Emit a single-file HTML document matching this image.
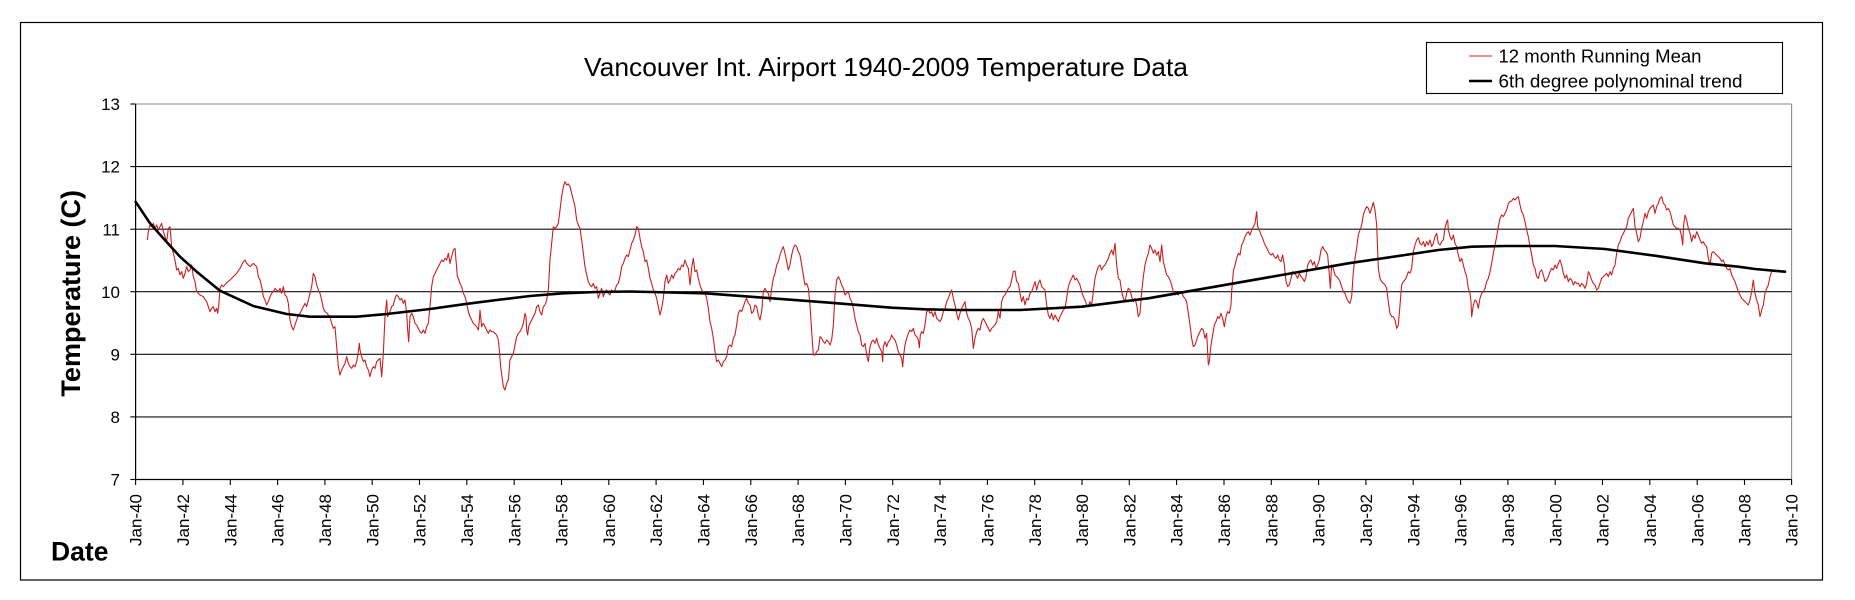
<!DOCTYPE html>
<html>
<head>
<meta charset="utf-8">
<style>
  html, body { margin: 0; padding: 0; background: #ffffff; }
  svg { display: block; }
  text { font-family: "Liberation Sans", Arial, sans-serif; fill: #000; }
</style>
</head>
<body>
<svg width="1855" height="600" viewBox="0 0 1855 600" xmlns="http://www.w3.org/2000/svg">
  <rect x="0" y="0" width="1855" height="600" fill="#ffffff"/>
  <!-- outer chart frame -->
  <rect x="20.5" y="22.5" width="1802" height="557.5" fill="none" stroke="#000" stroke-width="1.2"/>

  <!-- title -->
  <text x="584" y="76" font-size="26" textLength="604" lengthAdjust="spacingAndGlyphs">Vancouver Int. Airport 1940-2009 Temperature Data</text>

  <!-- legend -->
  <rect x="1426.5" y="42.5" width="356" height="51" fill="#fff" stroke="#000" stroke-width="1.1"/>
  <line x1="1469" y1="56" x2="1492" y2="56" stroke="#cc2020" stroke-width="1.1"/>
  <line x1="1469" y1="81" x2="1492" y2="81" stroke="#000" stroke-width="2.6"/>
  <text x="1498.5" y="62.6" font-size="18.7" textLength="203" lengthAdjust="spacingAndGlyphs">12 month Running Mean</text>
  <text x="1498.5" y="87.4" font-size="18.7" textLength="244" lengthAdjust="spacingAndGlyphs">6th degree polynominal trend</text>

  <!-- plot area borders -->
  <line x1="135.6" y1="104" x2="1791.6" y2="104" stroke="#8a8a8a" stroke-width="1.1"/>
  <line x1="1791.6" y1="104" x2="1791.6" y2="479.5" stroke="#8a8a8a" stroke-width="1.1"/>
  <!-- gridlines -->
  <g stroke="#111" stroke-width="1.1">
    <line x1="135.6" y1="166.6" x2="1791.6" y2="166.6"/>
    <line x1="135.6" y1="229.2" x2="1791.6" y2="229.2"/>
    <line x1="135.6" y1="291.7" x2="1791.6" y2="291.7"/>
    <line x1="135.6" y1="354.3" x2="1791.6" y2="354.3"/>
    <line x1="135.6" y1="416.9" x2="1791.6" y2="416.9"/>
  </g>
  <!-- axes -->
  <line x1="135.6" y1="104" x2="135.6" y2="479.5" stroke="#000" stroke-width="1.2"/>
  <line x1="135.6" y1="479.5" x2="1791.6" y2="479.5" stroke="#000" stroke-width="1.2"/>

  <!-- y ticks -->
  <g stroke="#000" stroke-width="1.1">
    <line x1="130.3" y1="104" x2="135.6" y2="104"/>
    <line x1="130.3" y1="166.6" x2="135.6" y2="166.6"/>
    <line x1="130.3" y1="229.2" x2="135.6" y2="229.2"/>
    <line x1="130.3" y1="291.7" x2="135.6" y2="291.7"/>
    <line x1="130.3" y1="354.3" x2="135.6" y2="354.3"/>
    <line x1="130.3" y1="416.9" x2="135.6" y2="416.9"/>
    <line x1="130.3" y1="479.5" x2="135.6" y2="479.5"/>
  </g>
  <g font-size="17" text-anchor="end">
    <text x="120" y="110.1">13</text>
    <text x="120" y="172.7">12</text>
    <text x="120" y="235.3">11</text>
    <text x="120" y="297.8">10</text>
    <text x="120" y="360.4">9</text>
    <text x="120" y="423">8</text>
    <text x="120" y="485.6">7</text>
  </g>

  <!-- x ticks -->
  <g stroke="#000" stroke-width="1.1">
    <line x1="135.6" y1="479.5" x2="135.6" y2="485"/>
    <line x1="182.9" y1="479.5" x2="182.9" y2="485"/>
    <line x1="230.3" y1="479.5" x2="230.3" y2="485"/>
    <line x1="277.6" y1="479.5" x2="277.6" y2="485"/>
    <line x1="324.9" y1="479.5" x2="324.9" y2="485"/>
    <line x1="372.2" y1="479.5" x2="372.2" y2="485"/>
    <line x1="419.5" y1="479.5" x2="419.5" y2="485"/>
    <line x1="466.8" y1="479.5" x2="466.8" y2="485"/>
    <line x1="514.2" y1="479.5" x2="514.2" y2="485"/>
    <line x1="561.5" y1="479.5" x2="561.5" y2="485"/>
    <line x1="608.8" y1="479.5" x2="608.8" y2="485"/>
    <line x1="656.1" y1="479.5" x2="656.1" y2="485"/>
    <line x1="703.4" y1="479.5" x2="703.4" y2="485"/>
    <line x1="750.8" y1="479.5" x2="750.8" y2="485"/>
    <line x1="798.1" y1="479.5" x2="798.1" y2="485"/>
    <line x1="845.4" y1="479.5" x2="845.4" y2="485"/>
    <line x1="892.7" y1="479.5" x2="892.7" y2="485"/>
    <line x1="940" y1="479.5" x2="940" y2="485"/>
    <line x1="987.4" y1="479.5" x2="987.4" y2="485"/>
    <line x1="1034.7" y1="479.5" x2="1034.7" y2="485"/>
    <line x1="1082" y1="479.5" x2="1082" y2="485"/>
    <line x1="1129.3" y1="479.5" x2="1129.3" y2="485"/>
    <line x1="1176.6" y1="479.5" x2="1176.6" y2="485"/>
    <line x1="1224" y1="479.5" x2="1224" y2="485"/>
    <line x1="1271.3" y1="479.5" x2="1271.3" y2="485"/>
    <line x1="1318.6" y1="479.5" x2="1318.6" y2="485"/>
    <line x1="1365.9" y1="479.5" x2="1365.9" y2="485"/>
    <line x1="1413.2" y1="479.5" x2="1413.2" y2="485"/>
    <line x1="1460.6" y1="479.5" x2="1460.6" y2="485"/>
    <line x1="1507.9" y1="479.5" x2="1507.9" y2="485"/>
    <line x1="1555.2" y1="479.5" x2="1555.2" y2="485"/>
    <line x1="1602.5" y1="479.5" x2="1602.5" y2="485"/>
    <line x1="1649.8" y1="479.5" x2="1649.8" y2="485"/>
    <line x1="1697.2" y1="479.5" x2="1697.2" y2="485"/>
    <line x1="1744.5" y1="479.5" x2="1744.5" y2="485"/>
    <line x1="1791.6" y1="479.5" x2="1791.6" y2="485"/>
  </g>
  <g font-size="17" text-anchor="end">
    <text transform="translate(135.6,494) rotate(-90)" dy="0.36em">Jan-40</text>
    <text transform="translate(182.9,494) rotate(-90)" dy="0.36em">Jan-42</text>
    <text transform="translate(230.3,494) rotate(-90)" dy="0.36em">Jan-44</text>
    <text transform="translate(277.6,494) rotate(-90)" dy="0.36em">Jan-46</text>
    <text transform="translate(324.9,494) rotate(-90)" dy="0.36em">Jan-48</text>
    <text transform="translate(372.2,494) rotate(-90)" dy="0.36em">Jan-50</text>
    <text transform="translate(419.5,494) rotate(-90)" dy="0.36em">Jan-52</text>
    <text transform="translate(466.8,494) rotate(-90)" dy="0.36em">Jan-54</text>
    <text transform="translate(514.2,494) rotate(-90)" dy="0.36em">Jan-56</text>
    <text transform="translate(561.5,494) rotate(-90)" dy="0.36em">Jan-58</text>
    <text transform="translate(608.8,494) rotate(-90)" dy="0.36em">Jan-60</text>
    <text transform="translate(656.1,494) rotate(-90)" dy="0.36em">Jan-62</text>
    <text transform="translate(703.4,494) rotate(-90)" dy="0.36em">Jan-64</text>
    <text transform="translate(750.8,494) rotate(-90)" dy="0.36em">Jan-66</text>
    <text transform="translate(798.1,494) rotate(-90)" dy="0.36em">Jan-68</text>
    <text transform="translate(845.4,494) rotate(-90)" dy="0.36em">Jan-70</text>
    <text transform="translate(892.7,494) rotate(-90)" dy="0.36em">Jan-72</text>
    <text transform="translate(940,494) rotate(-90)" dy="0.36em">Jan-74</text>
    <text transform="translate(987.4,494) rotate(-90)" dy="0.36em">Jan-76</text>
    <text transform="translate(1034.7,494) rotate(-90)" dy="0.36em">Jan-78</text>
    <text transform="translate(1082,494) rotate(-90)" dy="0.36em">Jan-80</text>
    <text transform="translate(1129.3,494) rotate(-90)" dy="0.36em">Jan-82</text>
    <text transform="translate(1176.6,494) rotate(-90)" dy="0.36em">Jan-84</text>
    <text transform="translate(1224,494) rotate(-90)" dy="0.36em">Jan-86</text>
    <text transform="translate(1271.3,494) rotate(-90)" dy="0.36em">Jan-88</text>
    <text transform="translate(1318.6,494) rotate(-90)" dy="0.36em">Jan-90</text>
    <text transform="translate(1365.9,494) rotate(-90)" dy="0.36em">Jan-92</text>
    <text transform="translate(1413.2,494) rotate(-90)" dy="0.36em">Jan-94</text>
    <text transform="translate(1460.6,494) rotate(-90)" dy="0.36em">Jan-96</text>
    <text transform="translate(1507.9,494) rotate(-90)" dy="0.36em">Jan-98</text>
    <text transform="translate(1555.2,494) rotate(-90)" dy="0.36em">Jan-00</text>
    <text transform="translate(1602.5,494) rotate(-90)" dy="0.36em">Jan-02</text>
    <text transform="translate(1649.8,494) rotate(-90)" dy="0.36em">Jan-04</text>
    <text transform="translate(1697.2,494) rotate(-90)" dy="0.36em">Jan-06</text>
    <text transform="translate(1744.5,494) rotate(-90)" dy="0.36em">Jan-08</text>
    <text transform="translate(1791.6,494) rotate(-90)" dy="0.36em">Jan-10</text>
  </g>

  <!-- axis titles -->
  <text transform="translate(80,293.3) rotate(-90)" text-anchor="middle" font-size="27" font-weight="bold">Temperature (C)</text>
  <text x="51" y="560.7" font-size="26.5" font-weight="bold">Date</text>

  <!-- red series: 12 month running mean (segments traced at 3x) -->
  <g fill="none" stroke="#c82020" stroke-width="1.1" stroke-linejoin="round">
    <polyline vector-effect="non-scaling-stroke" transform="translate(130,160) scale(0.333333)" points="52,240 55,215 60,195 65,200 70,190 75,205 80,195 85,210 90,200 95,190 100,215 105,230 110,245 115,205 120,200 125,260 130,280 135,300 140,330 145,325 150,345 155,335 160,355 165,340 170,320 175,335 180,330 185,315 190,350 195,365 200,395 205,400 210,405 220,410 230,425 240,455 245,445 250,440 255,455 260,445 263,460 266,440 270,385 275,375 280,380 290,368 300,360 310,350 320,340 330,325 340,305 345,300 350,310 360,320 370,310 380,320 385,350 390,360 395,380 400,410 405,420 410,435 415,425 420,410 425,400 430,395 435,385 440,390 445,395 450,385 455,400 460,380 465,405 470,410 475,430 480,480 485,500 490,510 495,495 500,480 505,465 510,460 515,450 520,440 525,430 530,440 535,420 540,400 545,380 550,340 555,350 560,375 565,390 570,400 575,420 580,445 585,455 590,458 595,465 600,470 605,490 610,505 615,500 620,560 625,620 630,645 635,630 640,620 645,610 650,590 655,610 660,620 665,625 670,615 675,620 680,605 685,575 688,550 690,570 695,590 700,605 705,600 710,620 715,630 720,650 725,630 730,620 735,625 740,605 745,600 750,595 755,650 760,580 765,470 770,420 773,470 778,460 785,440 790,435 795,415 800,405 805,410 810,420 815,415 820,430 825,420 830,460 833,510 836,545 840,470 845,460 850,470 855,490 860,495 865,505 870,515 875,520 880,510 885,520 890,500 895,490 900,440 905,380 910,350 915,340 920,330 925,320 930,310 935,300 940,305 945,295 950,300 955,280 960,310 965,290 970,270 975,265 978,300 982,350 985,355 990,370 995,380 1000,400 1005,410 1010,430 1015,455 1020,470 1025,480 1030,490 1035,495 1040,500 1045,510 1048,480 1050,450 1053,480 1055,500 1060,490 1065,500 1070,510 1075,520 1080,510 1085,515 1090,515 1095,520 1100,525 1105,540 1108,570 1112,620 1116,650 1120,680 1125,690 1130,670 1135,660 1140,600 1145,590 1150,580 1155,555 1160,530 1165,520 1170,515 1175,505 1180,490 1185,460 1188,470 1190,510 1193,525 1196,500 1200,490 1205,480 1210,470 1215,460 1220,440 1225,435 1230,455 1235,465 1240,440 1245,435 1250,420 1255,390 1260,300 1265,250 1270,200 1275,205 1280,200 1285,190 1290,150 1295,110 1300,80 1305,65 1310,75 1315,72 1320,80 1325,100 1330,120 1335,140 1340,180 1345,195 1350,205 1355,240 1360,280 1365,320 1370,345 1375,365 1380,375 1385,380 1390,370 1395,385 1400,380 1405,415 1410,400 1415,385 1420,410 1425,395 1430,390 1435,400 1440,405 1445,390 1450,395 1455,390 1460,375 1465,370 1470,350 1475,320 1480,310 1485,295 1490,285 1495,290 1500,270"/>
    <polyline vector-effect="non-scaling-stroke" transform="translate(625,165) scale(0.333333)" points="15,255 20,235 25,225 30,210 35,185 40,190 45,220 50,245 55,260 60,290 65,285 70,310 75,340 80,355 85,375 90,385 95,400 100,425 105,450 110,430 115,400 120,350 125,330 130,355 135,345 140,330 145,340 150,325 155,320 160,310 165,315 170,300 175,305 180,285 185,300 190,310 195,360 200,310 205,280 210,320 215,315 220,340 225,360 230,375 235,380 240,385 245,400 250,430 255,470 260,490 265,520 270,560 275,590 280,585 285,595 290,605 295,590 300,585 305,575 310,545 315,540 320,545 325,520 330,510 335,480 340,445 345,435 350,440 355,425 360,410 365,400 370,415 375,420 380,445 385,440 390,420 395,425 400,450 405,465 410,440 415,380 420,370 425,380 430,385 435,410 440,370 445,340 450,325 455,300 460,290 465,270 470,255 475,245 480,265 485,290 490,315 495,300 500,270 505,250 510,240 515,245 520,260 525,270 530,300 535,330 540,360 545,355 550,370 555,420 560,500 565,570 570,570 575,560 580,555 585,515 590,520 595,530 600,535 605,525 610,530 615,540 620,525 625,480 630,390 635,345 640,335 645,345 650,360 655,370 660,390 665,385 670,380 675,400 680,410 685,430 690,460 695,480 700,500 705,510 710,540 715,545 720,535 725,570 730,590 735,545 740,530 745,525 750,535 755,520 760,540 765,550 770,560 773,590 775,545 780,530 785,545 790,530 795,525 800,510 805,520 810,525 815,540 820,560 825,570 830,580 833,605 836,570 840,540 845,520 850,505 855,495 860,500 865,490 870,510 875,515 880,525 883,548 886,510 890,500 895,505 900,480 905,440 910,435 915,445 920,440 925,455 930,440 935,460 940,465 945,470 950,460 955,440 960,430 965,410 970,400 975,385 980,375 985,400 990,420 995,445 1000,465 1005,445 1010,430 1015,420 1020,410 1025,445 1030,460 1035,470 1040,490 1045,550 1050,520 1055,500 1060,490 1065,495 1070,470 1075,460 1080,470 1085,480 1090,490 1095,500 1100,490 1105,485 1110,480 1115,470 1120,440 1125,460 1130,410 1135,395 1140,390 1145,380 1150,370 1155,365 1160,345 1165,320 1170,318 1175,350 1180,355 1185,385"/>
    <polyline vector-effect="non-scaling-stroke" transform="translate(1015,165) scale(0.333333)" points="15,385 20,410 25,395 30,420 35,400 40,405 45,385 50,380 55,365 60,350 65,375 70,355 75,345 80,365 85,370 90,375 95,420 100,450 105,460 110,445 115,465 120,450 125,460 130,470 135,455 140,445 145,435 150,430 155,400 160,365 165,350 170,340 175,330 180,345 185,340 190,350 195,360 200,380 205,395 210,405 215,420 220,425 225,410 230,420 235,380 240,340 245,320 250,305 255,300 260,315 265,305 270,300 275,290 280,280 285,265 290,255 295,270 300,235 305,300 310,340 315,345 320,380 325,400 330,410 335,385 340,370 345,375 350,395 355,410 360,400 365,420 370,455 375,445 380,380 385,335 390,300 395,280 400,265 405,240 410,250 415,265 420,255 425,270 430,260 435,290 440,240 445,290 450,310 455,330 460,335 465,345 470,360 475,380 480,390 485,385 490,390 495,380 500,380 505,395 510,400 515,410 520,445 525,480 530,520 535,545 540,540 545,525 550,510 555,500 560,490 565,495 570,520 575,505 580,600 583,590 588,540 593,510 598,480 603,470 608,455 613,460 618,445 623,460 628,485 633,455 638,440 643,445 648,420 650,380 655,320 660,300 665,280 670,265 675,270 680,240 685,230 690,215 695,205 700,200 705,210 710,195 715,185 720,175 725,140 728,185 733,195 738,210 743,220 748,235 753,245 758,255 763,265 768,270 773,265 778,275 783,280 788,270 793,285 798,290 803,270 808,300 813,350 818,365 823,360 828,340 833,320 838,325 843,330 848,340 853,325 858,335 863,340 868,350 873,335 878,300 883,290 888,285 893,300 898,290 903,310 908,300 913,285 918,255 923,245 928,255 933,260 938,270 943,330 946,370 950,300 955,310 960,330 965,335 970,340 975,350 980,365 985,380 990,385 995,400 1000,410 1005,415 1010,395 1015,320 1020,280 1025,250 1030,210 1035,195 1040,180 1045,150 1050,135 1055,125 1060,130 1065,145 1070,130 1075,112 1080,135 1085,180 1090,310 1095,340 1100,350 1105,355 1110,360 1115,370 1120,410 1125,445 1130,455 1135,455 1140,465 1145,490 1150,480 1155,420 1160,360 1165,350 1170,345 1175,335 1180,320 1185,325"/>
    <polyline vector-effect="non-scaling-stroke" transform="translate(1405,165) scale(0.333333)" points="15,325 20,310 25,260 30,240 35,225 40,218 45,235 50,240 55,230 60,245 65,230 70,240 75,225 80,245 85,235 90,215 95,205 100,235 105,240 110,230 115,225 120,190 125,170 128,165 130,195 135,215 140,225 145,210 150,235 155,245 160,270 165,290 170,280 175,300 180,320 185,335 190,370 195,385 198,410 200,455 205,420 210,405 215,410 220,430 225,400 230,385 235,380 240,370 245,350 250,340 255,320 260,295 265,265 270,240 275,215 280,185 285,160 290,150 295,155 300,145 305,135 310,115 315,110 320,108 325,100 330,105 335,98 340,95 345,120 350,140 355,150 360,170 365,195 370,215 375,245 380,270 385,300 390,310 395,335 400,340 405,320 410,315 415,330 420,350 425,345 430,335 435,320 440,310 445,315 450,300 455,310 460,295 465,285 470,300 475,325 480,340 485,330 490,350 495,340 500,345 505,360 510,350 515,355 520,355 525,365 530,355 535,360 540,370 545,355 550,320 555,330 560,345 565,355 570,360 575,375 580,370 585,355 590,340 595,335 600,330 605,325 610,335 615,320 620,330 625,310 630,300 635,265 640,240 645,230 650,215 655,205 660,195 665,185 670,160 675,150 680,140 685,130 690,185 695,205 700,230 705,220 710,190 715,170 720,145 725,160 730,140 735,130 740,125 745,120 750,145 755,125 760,115 765,100 770,95 775,115 780,120 785,135 790,130 795,140 800,160 805,180 810,185 815,190 820,190 825,195 830,215 833,240 836,180 840,150 845,165 850,190 855,205 860,230 865,210 870,220 875,200 880,210 885,225 890,235 895,230 900,240 905,245 910,280 915,300 920,265 925,260 930,265 935,270 940,275 945,280 950,290 955,285 960,300 965,310 970,315 975,310 980,330 985,340 990,350 995,365 1000,380 1005,390 1010,400 1015,405 1020,410 1025,415 1030,420 1035,405 1040,380 1045,345 1050,385 1055,405 1060,420 1065,455 1070,435 1075,420 1080,385 1085,370 1090,360 1095,335 1100,320 1103,318"/>
  </g>

  <!-- black 6th degree polynomial trend -->
  <polyline fill="none" stroke="#000" stroke-width="2.6" stroke-linejoin="round" stroke-linecap="round"
    points="135.6,201.7 150,223.3 163.3,238.3 180,256.7 196.7,271.7 220,290.7 253.3,306 286.7,314 310,316.7 356.7,316.7 386.7,314 430,309 463.3,304.3 496.7,300 530,296 563.3,293.3 596.7,292 630,291.5 705,293.3 758.3,297.3 825,302.3 891.7,307.7 925,309.3 958.3,310 1020,310 1081.7,306.7 1148.3,298.3 1215,286.7 1281.7,275 1348.3,263.3 1405,255 1438.3,250 1471.7,246.7 1505,246 1555,246 1605,249 1655,255.7 1705,263.3 1738.3,266.7 1755,269 1785,271.7"/>
</svg>
</body>
</html>
